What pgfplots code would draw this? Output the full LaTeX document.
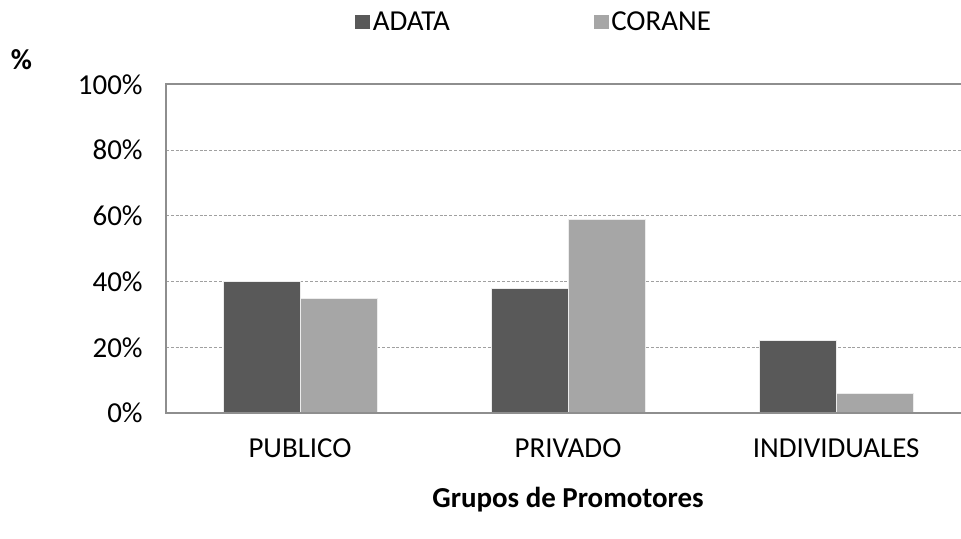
\documentclass[border=0pt]{standalone}
\usepackage{pgfplots}
\pgfplotsset{compat=1.18}
\usepackage{fontspec}
\setmainfont{Carlito}
\definecolor{adata}{HTML}{595959}
\definecolor{corane}{HTML}{A6A6A6}
\definecolor{axgray}{HTML}{8E8E8E}
\definecolor{gridgray}{HTML}{A0A0A0}
\begin{document}
\begin{tikzpicture}
\begin{axis}[
  at={(124.5pt,94.5pt)}, anchor=south west,
  scale only axis,
  width=596.25pt, height=246.4pt,
  xmin=-0.5, xmax=2.466,
  ymin=0, ymax=100,
  axis line style={draw=none},
  clip=false,
  ybar=0pt, bar width=0.287,
  xtick={0,1,2},
  xticklabels={PUBLICO,PRIVADO,INDIVIDUALES},
  ytick={0,20,40,60,80,100},
  yticklabel={\pgfmathprintnumber{\tick}\%},
  /pgf/number format/assume math mode=true,
  major tick length=0pt,
  tick label style={font=\fontsize{21.7}{26}\selectfont},
  yticklabel style={xshift=-14pt},
  xticklabel style={yshift=-15.5pt},
  ymajorgrids,
  grid style={gridgray, dash pattern=on 2.2pt off 1.4pt, line width=0.6pt},
  legend style={at={(0.4635,1.19)}, anchor=center, draw=none, fill=none,
    font=\fontsize{21.7}{26}\selectfont, legend columns=2,
    /tikz/every even column/.append style={column sep=106pt}},
  legend image code/.code={\fill[#1,draw=none] (0pt,-5.5pt) rectangle (11pt,5.5pt);},
]
\addplot[fill=adata, draw=white!85!gray, line width=0.5pt] coordinates {(0,40) (1,38) (2,22)};
\addplot[fill=corane, draw=white!85!gray, line width=0.5pt] coordinates {(0,35) (1,59) (2,6)};
\legend{ADATA,CORANE}
\draw[axgray, line width=1.5pt] (rel axis cs:1,1) -- (rel axis cs:0,1) -- (rel axis cs:0,0) -- (rel axis cs:1,0);
\node[font=\fontsize{21.7}{26}\selectfont\bfseries] at (rel axis cs:0.5057,-0.265) {Grupos de Promotores};
\node[font=\fontsize{21.7}{26}\selectfont\bfseries] at (rel axis cs:-0.1820,1.0746) {\%};
\end{axis}
\pgfresetboundingbox
\path[use as bounding box] (0,0) rectangle (720.75pt,404.25pt);
\end{tikzpicture}
\end{document}
